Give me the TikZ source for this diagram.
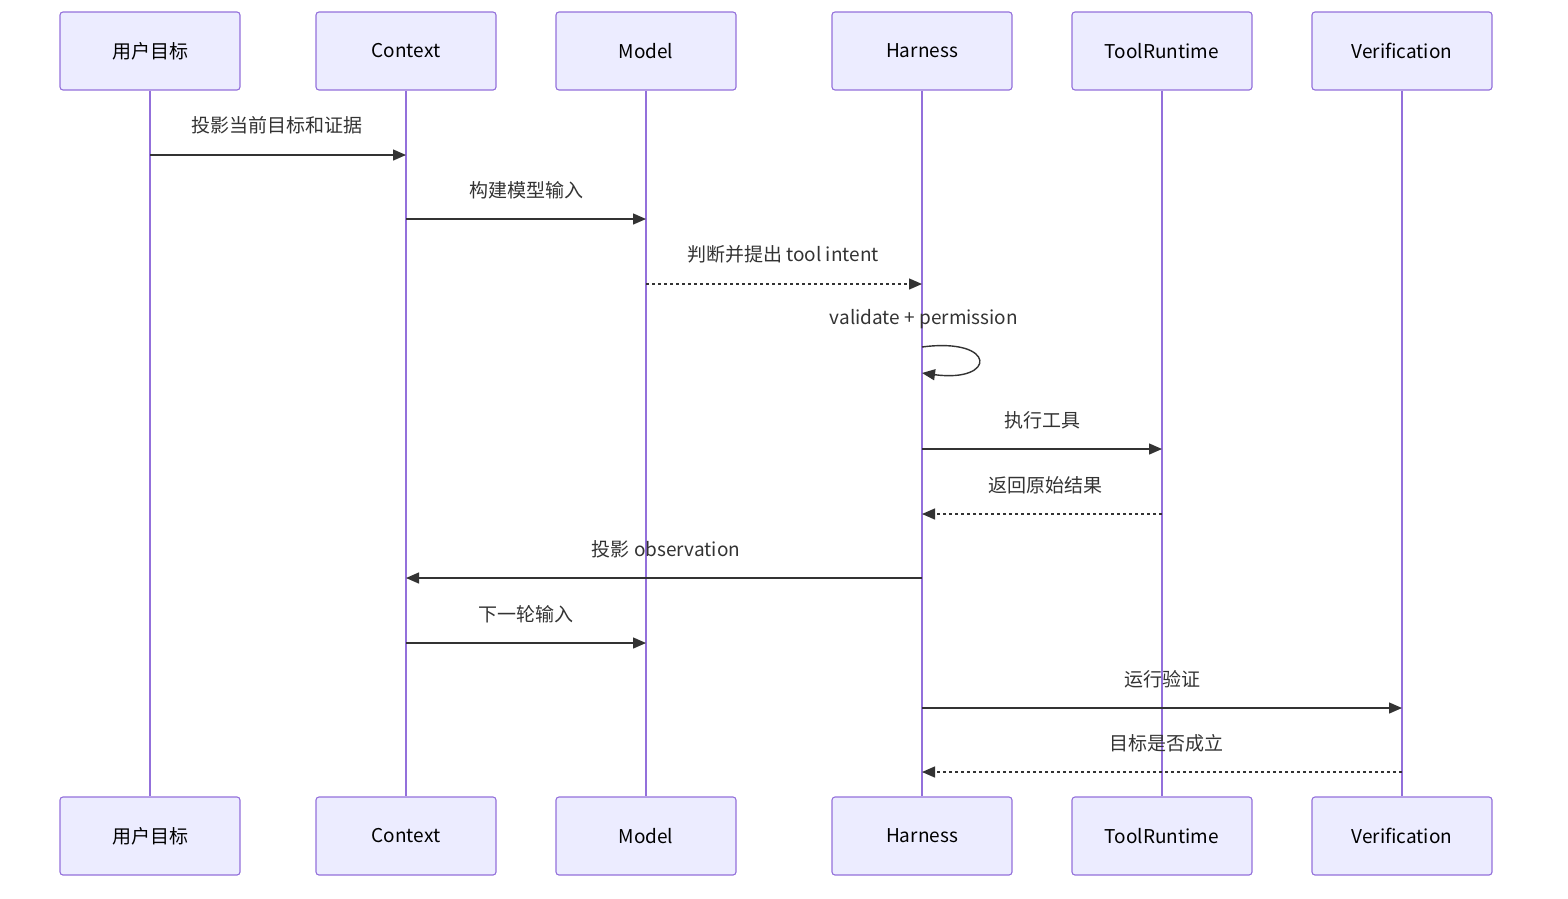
\documentclass[tikz,border=0pt]{standalone}
\usepackage{fontspec}
\setmainfont{Noto Sans CJK SC}
\usetikzlibrary{arrows.meta}
\definecolor{boxfill}{HTML}{ECECFF}
\definecolor{boxline}{HTML}{9370DB}
\definecolor{txt}{HTML}{333333}
\begin{document}
\begin{tikzpicture}[x=1pt,y=-1pt,
  actor/.style={draw=boxline, fill=boxfill, rounded corners=3pt, line width=1.1pt,
    minimum width=180pt, minimum height=78pt, inner sep=0pt,
    font=\fontsize{19}{22}\selectfont, text=black},
  lifeline/.style={draw=boxline, line width=1.8pt},
  msg/.style={draw=txt, line width=1.4pt, -{Triangle[length=13pt,width=11pt]}},
  reply/.style={msg, dash pattern=on 3pt off 3pt},
  lbl/.style={font=\fontsize{19}{22}\selectfont, text=txt, inner sep=0pt}]
\useasboundingbox (0,0) rectangle (1568,898);
% top actors
\node[actor] (u)  at (150,51)  {用户目标};
\node[actor] (c)  at (406,51)  {Context};
\node[actor] (m)  at (646,51)  {Model};
\node[actor] (h)  at (922,51)  {Harness};
\node[actor] (t)  at (1162,51) {ToolRuntime};
\node[actor] (v)  at (1402,51) {Verification};
% bottom actors
\node[actor] (ub) at (150,836)  {用户目标};
\node[actor] (cb) at (406,836)  {Context};
\node[actor] (mb) at (646,836)  {Model};
\node[actor] (hb) at (922,836)  {Harness};
\node[actor] (tb) at (1162,836) {ToolRuntime};
\node[actor] (vb) at (1402,836) {Verification};
% lifelines
\draw[lifeline] (u.south) -- (ub.north);
\draw[lifeline] (c.south) -- (cb.north);
\draw[lifeline] (m.south) -- (mb.north);
\draw[lifeline] (h.south) -- (hb.north);
\draw[lifeline] (t.south) -- (tb.north);
\draw[lifeline] (v.south) -- (vb.north);
% message rows
\coordinate (r1) at (0,155);
\coordinate (r2) at (0,219);
\coordinate (r3) at (0,284);
\coordinate (r4a) at (0,347);
\coordinate (r4b) at (0,373);
\coordinate (r5) at (0,449);
\coordinate (r6) at (0,514);
\coordinate (r7) at (0,578);
\coordinate (r8) at (0,643);
\coordinate (r9) at (0,708);
\coordinate (r10) at (0,772);
% messages
\draw[msg] (u |- r1) -- (c |- r1);
\node[lbl] (l1) at (277,125) {投影当前目标和证据};
\draw[msg] (c |- r2) -- (m |- r2);
\node[lbl] (l2) at (526,190) {构建模型输入};
\draw[reply] (m |- r3) -- (h |- r3);
\node[lbl] (l3) at (783,254) {判断并提出 tool intent};
\draw[msg] (h |- r4a) .. controls (997,337) and (997,383) .. (h |- r4b);
\node[lbl] (l4) at (924,319) {validate + permission};
\draw[msg] (h |- r5) -- (t |- r5);
\node[lbl] (l5) at (1042,420) {执行工具};
\draw[reply] (t |- r6) -- (h |- r6);
\node[lbl] (l6) at (1045,485) {返回原始结果};
\draw[msg] (h |- r7) -- (c |- r7);
\node[lbl] (l7) at (666,549) {投影 observation};
\draw[msg] (c |- r8) -- (m |- r8);
\node[lbl] (l8) at (526,614) {下一轮输入};
\draw[msg] (h |- r9) -- (v |- r9);
\node[lbl] (l9) at (1162,679) {运行验证};
\draw[reply] (v |- r10) -- (h |- r10);
\node[lbl] (l10) at (1166,743) {目标是否成立};
\end{tikzpicture}
\end{document}
